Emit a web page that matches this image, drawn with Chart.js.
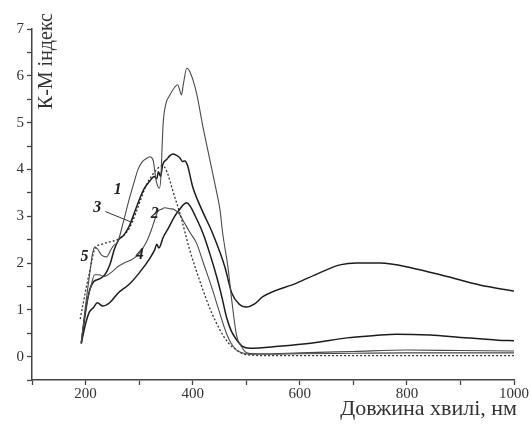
<!DOCTYPE html>
<html>
<head>
<meta charset="utf-8">
<script src="https://cdn.jsdelivr.net/npm/chart.js@4"></script>
<style>
  html, body { margin: 0; padding: 0; background: #fff; }
  #wrap { width: 531px; height: 427px; }
</style>
</head>
<body>
<div id="wrap"><canvas id="chart" width="531" height="427"></canvas></div>
<script>
// wavelength (nm) and K-M index for each curve
const wl1 = [192, 200, 208, 213, 217, 222, 230, 239, 248, 254, 260, 270, 280, 290, 298, 305, 312, 320, 326, 332, 338, 341, 343, 345, 350, 358, 366, 372, 377, 379, 383, 389, 395, 407, 419, 432, 445, 451, 456, 466, 473, 482, 492, 501, 520, 600, 700, 800, 900, 1000];
const km1 = [0.3, 1.1, 1.8, 2.2, 2.34, 2.3, 2.17, 2.13, 2.3, 2.39, 2.45, 2.85, 3.3, 3.7, 4.0, 4.15, 4.22, 4.27, 4.2, 3.75, 3.6, 3.9, 4.5, 5.0, 5.4, 5.6, 5.75, 5.81, 5.65, 5.59, 5.85, 6.16, 6.08, 5.64, 4.92, 4.21, 3.5, 3.14, 2.64, 1.9, 1.2, 0.45, 0.2, 0.08, 0.06, 0.08, 0.11, 0.14, 0.13, 0.12];

const wl2 = [192, 200, 210, 217, 225, 235, 248, 260, 272, 286, 296, 305, 315, 323, 329, 335, 342, 348, 357, 366, 375, 385, 395, 407, 420, 437, 450, 463, 472, 482, 492, 505, 550, 600, 700, 800, 900, 1000];
const km2 = [0.3, 1.0, 1.5, 1.75, 1.75, 1.71, 1.8, 1.92, 2.0, 2.07, 2.15, 2.28, 2.48, 2.71, 2.92, 3.1, 3.15, 3.18, 3.16, 3.14, 3.05, 2.85, 2.65, 2.43, 2.0, 1.43, 0.95, 0.5, 0.28, 0.14, 0.08, 0.05, 0.05, 0.06, 0.07, 0.08, 0.08, 0.08];

const wl3 = [192, 200, 207, 215, 226, 236, 245, 254, 262, 272, 282, 292, 302, 310, 320, 328, 333, 336, 340, 344, 352, 358, 363, 370, 376, 381, 385, 390, 400, 417, 437, 460, 473, 487, 501, 515, 531, 594, 637, 675, 707, 750, 811, 875, 936, 1000];
const km3 = [0.28, 0.95, 1.4, 1.6, 1.66, 1.75, 1.95, 2.3, 2.5, 2.6, 2.8, 3.1, 3.4, 3.6, 3.75, 3.85, 3.8, 3.95, 3.85, 4.1, 4.22, 4.3, 4.33, 4.3, 4.25, 4.17, 4.18, 4.1, 3.63, 3.14, 2.64, 1.92, 1.36, 1.12, 1.06, 1.12, 1.28, 1.57, 1.79, 1.96, 2.0, 2.0, 1.89, 1.71, 1.53, 1.4];

const wl4 = [192, 200, 207, 215, 222, 232, 245, 260, 282, 301, 320, 329, 333, 337, 345, 355, 366, 376, 383, 389, 395, 405, 419, 432, 445, 455, 463, 472, 482, 493, 507, 560, 624, 688, 740, 781, 843, 900, 936, 970, 1000];
const km4 = [0.28, 0.7, 0.95, 1.05, 1.15, 1.08, 1.15, 1.35, 1.55, 1.8, 2.1, 2.28, 2.4, 2.32, 2.55, 2.75, 2.99, 3.15, 3.25, 3.29, 3.22, 3.0, 2.64, 2.2, 1.7, 1.25, 0.85, 0.55, 0.36, 0.22, 0.18, 0.22, 0.29, 0.4, 0.45, 0.48, 0.46, 0.41, 0.38, 0.35, 0.34];

const wl5 = [190, 200, 210, 217, 230, 245, 260, 272, 282, 295, 305, 315, 323, 333, 344, 352, 364, 376, 394, 419, 435, 451, 466, 482, 500, 550, 700, 1000];
const km5 = [0.8, 1.4, 1.95, 2.3, 2.4, 2.45, 2.5, 2.6, 2.75, 3.1, 3.42, 3.7, 3.85, 4.0, 4.08, 3.95, 3.5, 3.07, 2.3, 1.43, 0.95, 0.57, 0.3, 0.14, 0.04, 0.02, 0.02, 0.02];

// curve numbers placed next to the lines
const curveTags = ['1', '3', '2', '4', '5'];
const tagWl = [260, 222, 329, 301, 198];
const tagKm = [3.56, 3.18, 3.05, 2.17, 2.13];

const xTitle = 'Довжина хвилі, нм';
const yTitle = 'К-М індекс';

function pts(xs, ys) {
  return xs.map((x, i) => ({ x: x, y: ys[i] }));
}

const serif = '"Liberation Serif", "DejaVu Serif", serif';

const textPlugin = {
  id: 'texts',
  afterDraw(chart) {
    const ctx = chart.ctx;
    const xs = chart.scales.x, ys = chart.scales.y;
    ctx.save();
    ctx.fillStyle = '#222';
    // curve numbers
    ctx.font = 'italic bold 16px ' + serif;
    ctx.textAlign = 'center';
    ctx.textBaseline = 'middle';
    curveTags.forEach((t, i) => {
      ctx.fillText(t, xs.getPixelForValue(tagWl[i]), ys.getPixelForValue(tagKm[i]));
    });
    // leader line for curve 3
    ctx.strokeStyle = '#333';
    ctx.lineWidth = 1;
    ctx.beginPath();
    ctx.moveTo(xs.getPixelForValue(237), ys.getPixelForValue(3.1));
    ctx.lineTo(xs.getPixelForValue(284), ys.getPixelForValue(2.88));
    ctx.stroke();
    // axis titles
    ctx.fillStyle = '#333';
    ctx.font = '22px ' + serif;
    ctx.textAlign = 'right';
    ctx.textBaseline = 'middle';
    ctx.fillText(xTitle, 517, 409);
    ctx.save();
    ctx.translate(47, 13);
    ctx.rotate(-Math.PI / 2);
    ctx.font = '20px ' + serif;
    ctx.textAlign = 'right';
    ctx.fillText(yTitle, 0, 0);
    ctx.restore();
    ctx.restore();
  }
};

const thick = { borderColor: '#1c1c1c', borderWidth: 1.5 };
const thin = { borderColor: '#4a4a4a', borderWidth: 1.1 };

new Chart(document.getElementById('chart').getContext('2d'), {
  type: 'line',
  data: {
    datasets: [
      Object.assign({ label: '1', data: pts(wl1, km1) }, thin),
      Object.assign({ label: '2', data: pts(wl2, km2) }, thin),
      Object.assign({ label: '3', data: pts(wl3, km3) }, thick),
      Object.assign({ label: '4', data: pts(wl4, km4) }, thick),
      { label: '5', data: pts(wl5, km5), borderColor: '#333', borderWidth: 1.3, borderDash: [2, 2] }
    ]
  },
  options: {
    responsive: false,
    animation: false,
    layout: { padding: { top: 29, right: 17, left: 0, bottom: 0 } },
    elements: {
      point: { radius: 0 },
      line: { cubicInterpolationMode: 'monotone', fill: false }
    },
    plugins: { legend: { display: false }, tooltip: { enabled: false } },
    scales: {
      x: {
        type: 'linear',
        min: 100, max: 1000,
        afterFit: s => { s.height = 47; },
        border: { display: true, color: '#444', width: 1.5 },
        grid: { display: true, drawOnChartArea: false, drawTicks: true, tickLength: 5, color: '#444', tickWidth: 1.3 },
        ticks: {
          stepSize: 100, padding: 0, color: '#333',
          font: { family: serif, size: 15 },
          maxRotation: 0,
          callback: v => (v % 200 === 0 ? String(v) : '')
        }
      },
      y: {
        min: -0.5, max: 7,
        afterFit: s => { s.width = 32; },
        border: { display: true, color: '#444', width: 1.5 },
        grid: { display: true, drawOnChartArea: false, drawTicks: true, tickLength: 5, color: '#444', tickWidth: 1.3 },
        ticks: {
          stepSize: 0.5, padding: 3, color: '#333',
          font: { family: serif, size: 15 },
          callback: v => (Number.isInteger(v) ? String(v) : '')
        }
      }
    }
  },
  plugins: [textPlugin]
});
</script>
</body>
</html>
